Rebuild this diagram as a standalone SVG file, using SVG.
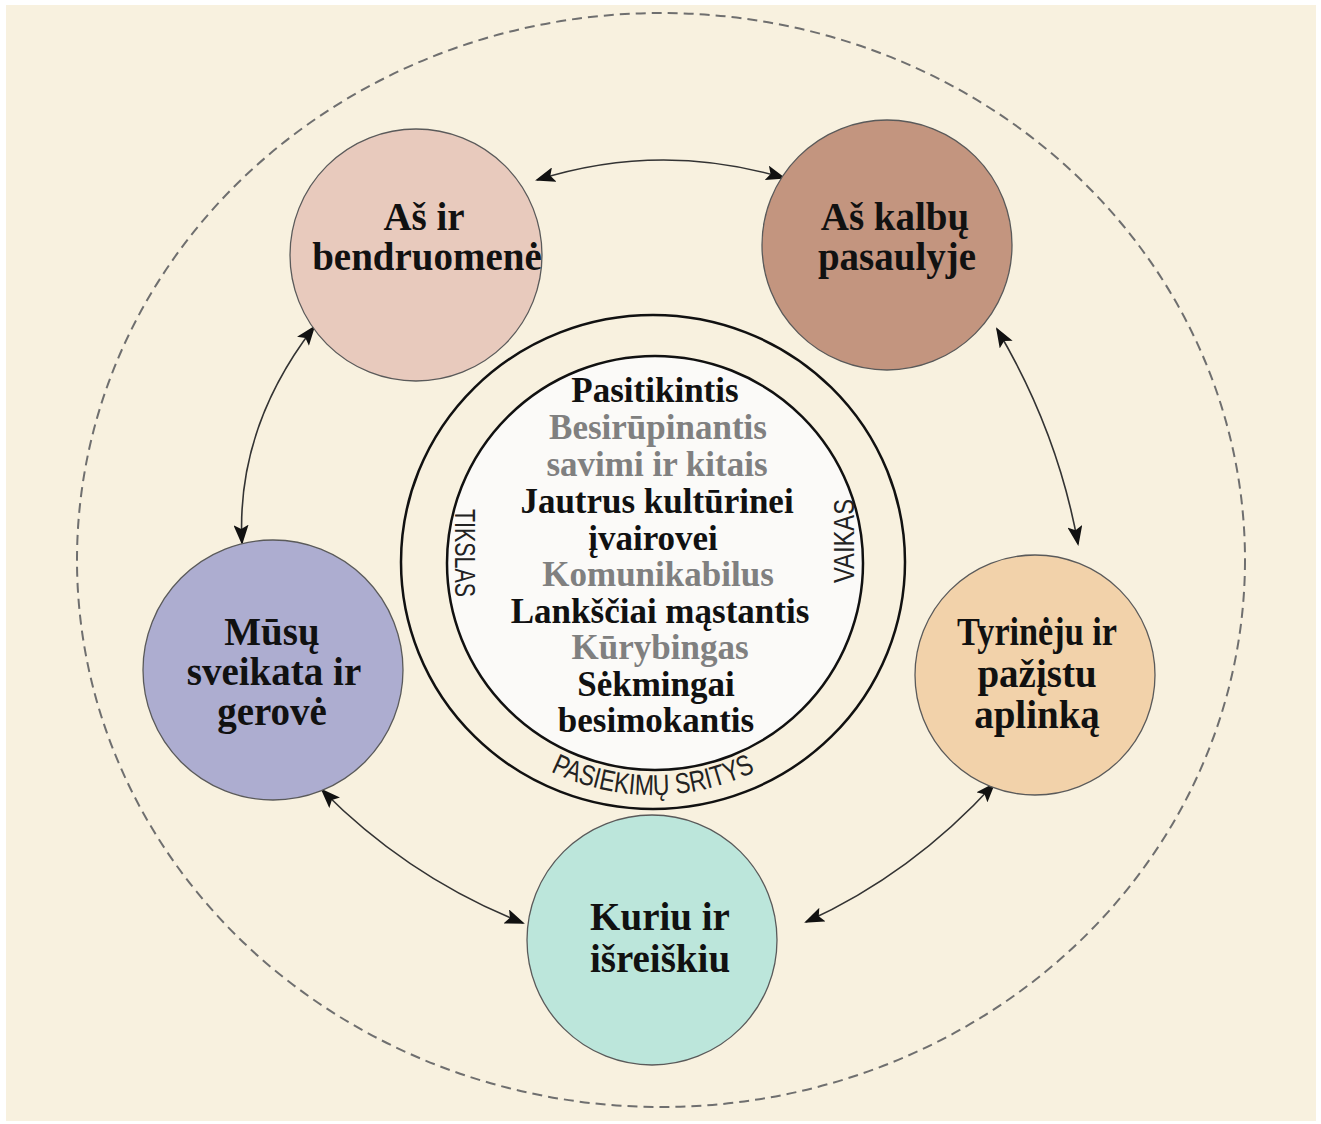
<svg xmlns="http://www.w3.org/2000/svg" width="1321" height="1124" viewBox="0 0 1321 1124">
<defs>
<style>
.node{stroke:#5a5a5a;stroke-width:1.3}
.lbl{font-family:"Liberation Serif","Times New Roman",serif;font-weight:bold;font-size:39px;fill:#111;text-anchor:middle}
.ct{font-family:"Liberation Serif","Times New Roman",serif;font-weight:bold;font-size:35px;text-anchor:middle}
.blk{fill:#111}
.gry{fill:#808080}
.ring{fill:none;stroke:#111;stroke-width:2.5}
.small{font-family:"Liberation Sans",Arial,sans-serif;font-size:29px;fill:#222}
.conn{fill:none;stroke:#333;stroke-width:1.6;marker-start:url(#ah);marker-end:url(#ah)}
</style>
<marker id="ah" viewBox="0 0 10 10" refX="9" refY="5" markerWidth="20" markerHeight="15" markerUnits="userSpaceOnUse" orient="auto-start-reverse" preserveAspectRatio="none">
<path d="M0,0 L10,5 L0,10 L2,5 Z" fill="#111"/>
</marker>
<path id="arcBottom" d="M 420,562 A 233,233 0 0 0 886,562"/>
</defs>
<rect x="0" y="0" width="1321" height="1124" fill="#ffffff"/>
<rect x="6" y="5" width="1310" height="1116" fill="#F8F1DF"/>
<ellipse id="outer-dashed" cx="661" cy="560" rx="584" ry="547" fill="none" stroke="#6f6f6f" stroke-width="2" stroke-dasharray="10 6"/>

<g id="connectors">
<path class="conn" d="M537,180 Q660,141 784,178"/>
<path class="conn" d="M314,327 Q236,428 242,543"/>
<path class="conn" d="M997,329 Q1058,432 1078,544"/>
<path class="conn" d="M322,790 Q409,878 523,923"/>
<path class="conn" d="M994,784 Q912,874 806,922"/>
</g>

<g id="node-bendruomene">
<circle class="node" cx="416" cy="255" r="126" fill="#E8CABD"/>
<text class="lbl" x="424" y="230">Aš ir</text>
<text class="lbl" x="427" y="270">bendruomenė</text>
</g>

<g id="node-kalbu">
<circle class="node" cx="887" cy="245" r="125" fill="#C3957F"/>
<text class="lbl" x="895" y="230">Aš kalbų</text>
<text class="lbl" x="897" y="270">pasaulyje</text>
</g>

<g id="node-sveikata">
<circle class="node" cx="273" cy="670" r="130" fill="#ADADD0"/>
<text class="lbl" x="272" y="645">Mūsų</text>
<text class="lbl" x="274" y="685">sveikata ir</text>
<text class="lbl" x="272" y="725">gerovė</text>
</g>

<g id="node-tyrineju">
<circle class="node" cx="1035" cy="675" r="120" fill="#F2D2AA"/>
<text class="lbl" x="1037" y="645" textLength="160" lengthAdjust="spacingAndGlyphs">Tyrinėju ir</text>
<text class="lbl" x="1037" y="687">pažįstu</text>
<text class="lbl" x="1037" y="728">aplinką</text>
</g>

<g id="node-kuriu">
<circle class="node" cx="652" cy="940" r="125" fill="#BCE6DB"/>
<text class="lbl" x="660" y="930">Kuriu ir</text>
<text class="lbl" x="660" y="972">išreiškiu</text>
</g>

<g id="node-vaikas">
<ellipse class="ring" cx="653" cy="562" rx="252" ry="247"/>
<ellipse cx="655" cy="563" rx="208" ry="207" fill="#FBFAF8" stroke="#111" stroke-width="2.5"/>
<text class="small" transform="translate(455,553) rotate(90)" text-anchor="middle" textLength="88" lengthAdjust="spacingAndGlyphs">TIKSLAS</text>
<text class="small" transform="translate(854,541) rotate(-90)" text-anchor="middle" textLength="84" lengthAdjust="spacingAndGlyphs">VAIKAS</text>
<text class="small" textLength="212" lengthAdjust="spacingAndGlyphs"><textPath href="#arcBottom" startOffset="50%" text-anchor="middle">PASIEKIMŲ SRITYS</textPath></text>
<text class="ct blk" x="655" y="402">Pasitikintis</text>
<text class="ct gry" x="658" y="439">Besirūpinantis</text>
<text class="ct gry" x="657" y="476">savimi ir kitais</text>
<text class="ct blk" x="657" y="513">Jautrus kultūrinei</text>
<text class="ct blk" x="653" y="550">įvairovei</text>
<text class="ct gry" x="658" y="586">Komunikabilus</text>
<text class="ct blk" x="660" y="623">Lankščiai mąstantis</text>
<text class="ct gry" x="660" y="659">Kūrybingas</text>
<text class="ct blk" x="656" y="696">Sėkmingai</text>
<text class="ct blk" x="656" y="732">besimokantis</text>
</g>
</svg>
